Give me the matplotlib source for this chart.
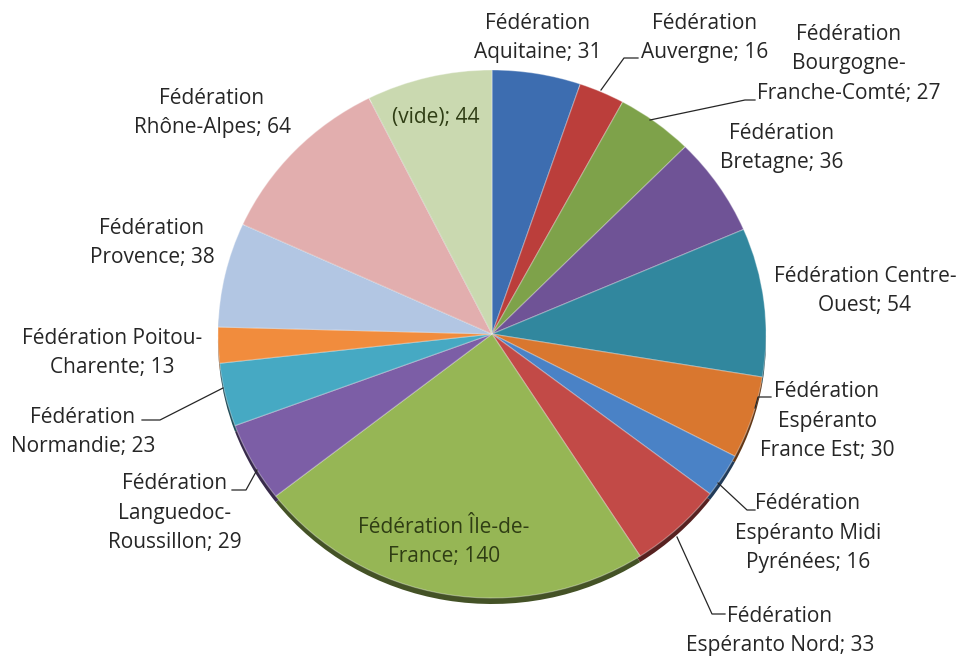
import matplotlib.pyplot as plt
import matplotlib.colors as mcolors
from matplotlib.transforms import Affine2D

# data, clockwise from 12 o'clock
labels = ['Fédération\nAquitaine; 31', 'Fédération\nAuvergne; 16',
          'Fédération\nBourgogne-\nFranche-Comté; 27', 'Fédération\nBretagne; 36',
          'Fédération Centre-\nOuest; 54', 'Fédération\nEspéranto\nFrance Est; 30',
          'Fédération\nEspéranto Midi\nPyrénées; 16', 'Fédération\nEspéranto Nord; 33',
          'Fédération Île-de-\nFrance; 140', 'Fédération\nLanguedoc-\nRoussillon; 29',
          'Fédération\nNormandie; 23', 'Fédération Poitou-\nCharente; 13',
          'Fédération\nProvence; 38', 'Fédération\nRhône-Alpes; 64', '(vide); 44']
values = [31, 16, 27, 36, 54, 30, 16, 33, 140, 29, 23, 13, 38, 64, 44]

colors = ['#3d6db0', '#bb3e3b', '#7ea24a', '#6f5396', '#31879e', '#d9772f',
          '#4a82c6', '#c24a47', '#96b655', '#7c5ea6', '#46a9c3', '#f18c3d',
          '#b2c6e3', '#e2aeae', '#cad9b0']
text_colors = ['#262626'] * 8 + ['#2f3d14'] + ['#262626'] * 5 + ['#2f3d14']

# label layout (pixel coords, y down)
label_pos = [(538, 38), (705, 38), (849, 64), (782, 148), (865, 291), (827, 421),
             (808, 533), (780, 631), (444, 542), (175, 513), (83, 432), (112, 353),
             (152, 243), (212, 113), (436, 118)]
leaders = {1: [(601, 90), (624, 58), (638, 58)],
           2: [(650, 120), (745, 100), (755, 100)],
           5: [(755, 408), (758, 397), (771, 397)],
           6: [(718, 483), (747, 510), (755, 510)],
           7: [(677, 537), (712, 614), (725, 614)],
           9: [(257, 470), (246, 490), (232, 490)],
           10: [(223, 388), (160, 420), (142, 420)]}

fig = plt.figure(figsize=(9.65, 6.58), dpi=100)
ax = fig.add_axes([0, 0, 1, 1])
ax.set_xlim(0, 965)
ax.set_ylim(658, 0)
ax.axis('off')

cx, cy, rx, ry = 492, 334, 274, 264

# shadow / 3D rim
dark = [tuple(c * 0.45 for c in mcolors.to_rgb(col)) for col in colors]
sh, _ = ax.pie(values, colors=dark, startangle=-90, counterclock=True,
               wedgeprops=dict(linewidth=0))
for w in sh:
    w.set_transform(Affine2D().scale(rx, ry).translate(cx, cy + 6) + ax.transData)

wedges, _ = ax.pie(values, colors=colors, startangle=-90, counterclock=True,
                   wedgeprops=dict(linewidth=0.8, edgecolor=(1, 1, 1, 0.35)))
for w in wedges:
    w.set_transform(Affine2D().scale(rx, ry).translate(cx, cy) + ax.transData)

ax.set_xlim(0, 965)
ax.set_ylim(658, 0)
ax.set_aspect('auto')

for i, lab in enumerate(labels):
    x, y = label_pos[i]
    ax.text(x, y, lab, ha='center', va='center', fontsize=15,
            family='Open Sans', color=text_colors[i], linespacing=1.55)

for pts in leaders.values():
    xs = [p[0] for p in pts]
    ys = [p[1] for p in pts]
    ax.plot(xs, ys, color='#262626', lw=0.9)

fig.savefig('out.png', dpi=100)
